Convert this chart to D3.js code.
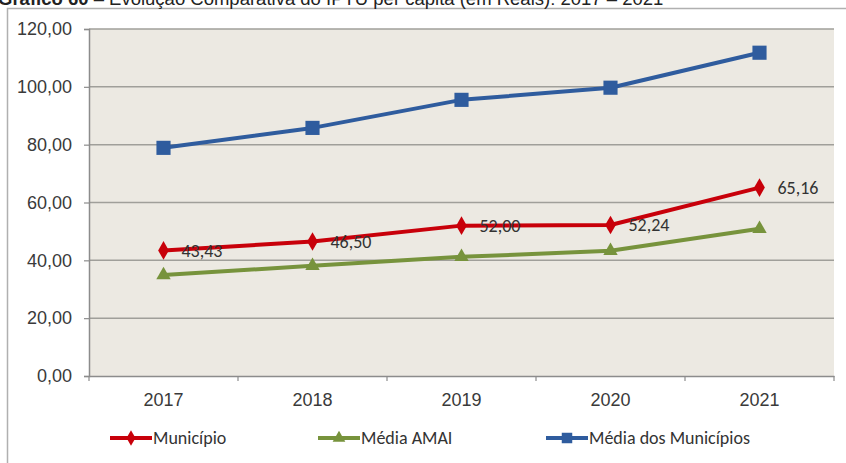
<!DOCTYPE html>
<html>
<head>
<meta charset="utf-8">
<script src="https://cdn.jsdelivr.net/npm/d3@7"></script>
<style>
  body { margin: 0; background: #fff; }
  svg { display: block; font-family: Carlito, Calibri, "Open Sans", "DejaVu Sans", sans-serif; }
</style>
</head>
<body>
<svg id="chart" width="846" height="463"></svg>
<script>
// chart values
const years = ["2017", "2018", "2019", "2020", "2021"];
const municipio = [43.43, 46.50, 52.00, 52.24, 65.16];
const mediaAmai = [34.9, 38.1, 41.2, 43.3, 50.9];
const mediaMunicipios = [78.9, 85.8, 95.5, 99.7, 111.8];
const yTicks = [0, 20, 40, 60, 80, 100, 120];

const series = [
    { name: "Município", values: municipio, color: "#C8000A", shape: "diamond", labels: true },
    { name: "Média AMAI", values: mediaAmai, color: "#77933C", shape: "triangle", labels: false },
    { name: "Média dos Municípios", values: mediaMunicipios, color: "#2F5C9E", shape: "square", labels: false }
];

const svg = d3.select("#chart");
const margin = { top: 29, left: 89, right: 12, bottom: 87 };
const width = 846 - margin.left - margin.right;
const height = 463 - margin.top - margin.bottom;
const fontSize = "18px";

// outer frame (partly cropped)
svg.append("rect")
    .attr("x", 7.5).attr("y", 8.5)
    .attr("width", 860).attr("height", 480)
    .attr("fill", "#fff")
    .attr("stroke", "#b0b0b0")
    .attr("stroke-width", 1.5);

// title, cut off at the top like the source scan
svg.append("text")
    .attr("x", -2).attr("y", 5)
    .style("font-family", "Arial, 'Liberation Sans', sans-serif")
    .style("font-size", "18.5px")
    .attr("fill", "#222")
    .html('<tspan font-weight="bold">Gráfico 60</tspan> – Evolução Comparativa do IPTU per capita (em Reais): 2017 – 2021');

const chart = svg.append("g").attr("transform", `translate(${margin.left},${margin.top})`);

const x = d3.scaleBand().domain(years).range([0, width]);
const y = d3.scaleLinear().domain([0, 120]).range([height, 0]);

chart.append("rect")
    .attr("width", width).attr("height", height)
    .attr("fill", "#ECE9E2");

// gridlines
chart.append("g")
    .selectAll("line")
    .data(yTicks.filter(d => d > 0))
    .join("line")
    .attr("x1", 0).attr("x2", width)
    .attr("y1", d => y(d)).attr("y2", d => y(d))
    .attr("stroke", "#A09F9A")
    .attr("stroke-width", 1.5);

// y axis
const yAxis = chart.append("g")
    .call(d3.axisLeft(y).tickValues(yTicks).tickSize(5).tickPadding(12)
        .tickFormat(d => d3.format(".2f")(d).replace(".", ",")));
yAxis.select(".domain").attr("stroke", "#8C8C8C").attr("stroke-width", 1.5);
yAxis.selectAll(".tick line").attr("stroke", "#8C8C8C").attr("stroke-width", 1.2);
yAxis.selectAll("text").attr("fill", "#3a3a3a").style("font-size", fontSize);

// x axis
const xAxis = chart.append("g")
    .attr("transform", `translate(0,${height})`)
    .call(d3.axisBottom(x).tickSize(0).tickPadding(17));
xAxis.select(".domain").attr("stroke", "#8C8C8C").attr("stroke-width", 1.5);
xAxis.selectAll("text").attr("fill", "#3a3a3a").style("font-size", fontSize);
chart.append("g")
    .selectAll("line")
    .data(years.concat(["end"]))
    .join("line")
    .attr("x1", (d, i) => i * x.bandwidth()).attr("x2", (d, i) => i * x.bandwidth())
    .attr("y1", height).attr("y2", height + 5)
    .attr("stroke", "#8C8C8C").attr("stroke-width", 1.2);

const symbols = {
    diamond: d3.symbol().type(d3.symbolDiamond).size(100),
    triangle: d3.symbol().type(d3.symbolTriangle).size(90),
    square: d3.symbol().type(d3.symbolSquare).size(200)
};
const legendSymbols = {
    diamond: d3.symbol().type(d3.symbolDiamond).size(70),
    triangle: d3.symbol().type(d3.symbolTriangle).size(70),
    square: d3.symbol().type(d3.symbolSquare).size(110)
};

const line = d3.line()
    .x((d, i) => x(years[i]) + x.bandwidth() / 2)
    .y(d => y(d));

series.forEach(s => {
    const g = chart.append("g");
    g.append("path")
        .datum(s.values)
        .attr("d", line)
        .attr("fill", "none")
        .attr("stroke", s.color)
        .attr("stroke-width", 4)
        .attr("stroke-linejoin", "round");
    g.selectAll("path.mark")
        .data(s.values)
        .join("path")
        .attr("class", "mark")
        .attr("d", symbols[s.shape])
        .attr("transform", (d, i) => `translate(${x(years[i]) + x.bandwidth() / 2},${y(d)})`)
        .attr("fill", s.color);
    if (s.labels) {
        g.selectAll("text")
            .data(s.values)
            .join("text")
            .attr("x", (d, i) => x(years[i]) + x.bandwidth() / 2 + 18)
            .attr("y", d => y(d))
            .attr("dy", "0.35em")
            .attr("fill", "#333")
            .style("font-size", fontSize)
            .text(d => d3.format(".2f")(d).replace(".", ","));
    }
});

// legend
const legendX = [110, 318, 546];
const legend = svg.append("g").attr("transform", "translate(0,438)");
series.forEach((s, i) => {
    const lg = legend.append("g").attr("transform", `translate(${legendX[i]},0)`);
    lg.append("line")
        .attr("x1", 0).attr("x2", 42)
        .attr("stroke", s.color).attr("stroke-width", 4);
    lg.append("path")
        .attr("d", legendSymbols[s.shape])
        .attr("transform", "translate(21,0)")
        .attr("fill", s.color);
    lg.append("text")
        .attr("x", 43).attr("dy", "0.35em")
        .attr("fill", "#333")
        .style("font-size", fontSize)
        .text(s.name);
});
</script>
</body>
</html>
